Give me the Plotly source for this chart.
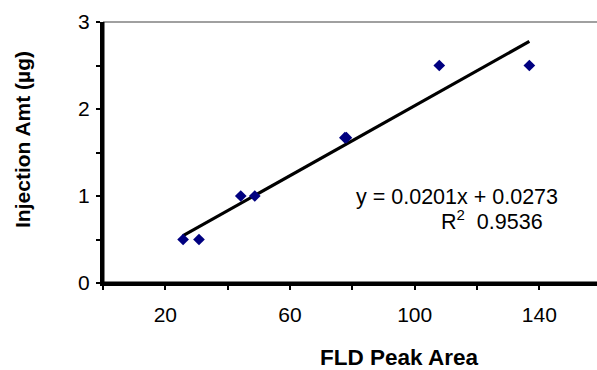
import plotly.graph_objects as go

# Data
peak_area = [25.7, 30.8, 44.2, 48.7, 77.6, 78.1, 107.9, 136.8]
inj_amt = [0.5, 0.5, 1.0, 1.0, 1.67, 1.67, 2.5, 2.5]
slope = 0.0201
intercept = 0.0273
r2 = 0.9536
x_tick_vals = [20, 60, 100, 140]
y_tick_vals = [0, 1, 2, 3]

trend_x = [min(peak_area), max(peak_area)]
trend_y = [slope * v + intercept for v in trend_x]

FONT = "Liberation Sans, Arial, sans-serif"

fig = go.Figure()
fig.add_trace(go.Scatter(x=trend_x, y=trend_y, mode="lines",
                         line=dict(color="black", width=3.2),
                         hoverinfo="skip", showlegend=False))
fig.add_trace(go.Scatter(x=peak_area, y=inj_amt, mode="markers",
                         marker=dict(symbol="diamond", size=9, color="#000080",
                                     line=dict(width=0)),
                         showlegend=False))

# plot-area border: grey top, thick black axes
fig.add_shape(type="line", xref="paper", yref="paper", x0=0, x1=1, y0=1, y1=1,
              line=dict(color="#808080", width=1.5), layer="above")
fig.add_shape(type="line", xref="paper", yref="paper", x0=0, x1=0, y0=0, y1=1,
              line=dict(color="black", width=3), layer="above")
fig.add_shape(type="line", xref="paper", yref="paper", x0=0, x1=1, y0=0, y1=0,
              line=dict(color="black", width=3), layer="above")

fig.add_annotation(x=113.6, y=0.99, xref="x", yref="y",
                   text=f"y = {slope:.4f}x + {intercept:.4f}", showarrow=False,
                   font=dict(family=FONT, size=21.5, color="black"),
                   xanchor="center", yanchor="middle", borderpad=0)
fig.add_annotation(x=141.5, y=0.72, xref="x", yref="y",
                   text=f"R<sup>2</sup>  {r2:.4f}", showarrow=False,
                   font=dict(family=FONT, size=21.5, color="black"),
                   xanchor="right", yanchor="middle", borderpad=0)

fig.add_annotation(x=0, y=0.548, xref="paper", yref="paper", xshift=-80,
                   text="<b>Injection Amt (µg)</b>", textangle=-90, showarrow=False,
                   font=dict(family=FONT, size=21, color="black"),
                   xanchor="center", yanchor="middle")
fig.add_annotation(x=0.599, y=0, xref="paper", yref="paper", yshift=-74,
                   text="<b>FLD Peak Area</b>", showarrow=False,
                   font=dict(family=FONT, size=22.5, color="black"),
                   xanchor="center", yanchor="middle", borderpad=0)

fig.update_layout(
    width=597, height=370,
    margin=dict(l=103, r=0, t=22, b=87),
    paper_bgcolor="white", plot_bgcolor="white",
    font=dict(family=FONT, size=21, color="black"),
    xaxis=dict(range=[0, 158.5], tickmode="array", tickvals=x_tick_vals,
               ticktext=[str(v) for v in x_tick_vals],
               showgrid=False, zeroline=False, showline=True,
               linecolor="black", linewidth=3, ticks="outside", ticklen=4,
               tickwidth=1.5, tickcolor="black",
               minor=dict(dtick=20, tick0=0, ticks="outside", ticklen=4,
                          tickwidth=1.5, tickcolor="black", showgrid=False),
               ticklabelstandoff=7,
               tickfont=dict(family=FONT, size=21)),
    yaxis=dict(range=[0, 3], tickmode="array", tickvals=y_tick_vals,
               ticktext=[str(v) for v in y_tick_vals],
               showgrid=False, zeroline=False, showline=True,
               linecolor="black", linewidth=3, ticks="outside", ticklen=4,
               tickwidth=1.5, tickcolor="black",
               minor=dict(dtick=0.5, tick0=0, ticks="outside", ticklen=4,
                          tickwidth=1.5, tickcolor="black", showgrid=False),
               ticklabelstandoff=2,
               tickfont=dict(family=FONT, size=21)),
)

fig.write_html("out.html")
